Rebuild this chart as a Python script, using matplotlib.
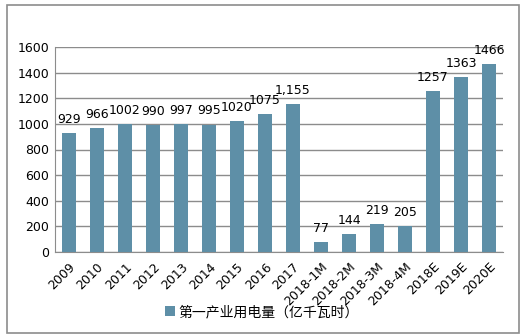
import matplotlib.pyplot as plt
from matplotlib.patches import Rectangle

plt.rcParams['font.family'] = ['Noto Sans CJK SC', 'DejaVu Sans']

categories = ['2009', '2010', '2011', '2012', '2013', '2014', '2015', '2016', '2017',
              '2018-1M', '2018-2M', '2018-3M', '2018-4M', '2018E', '2019E', '2020E']
values = [929, 966, 1002, 990, 997, 995, 1020, 1075, 1155,
          77, 144, 219, 205, 1257, 1363, 1466]
labels = ['929', '966', '1002', '990', '997', '995', '1020', '1075', '1,155',
          '77', '144', '219', '205', '1257', '1363', '1466']
series_name = '第一产业用电量（亿千瓦时）'

bar_color = '#5e8fa7'
grid_color = '#8c8c8c'

fig = plt.figure(figsize=(5.28, 3.36), dpi=100)
fig.patches.append(Rectangle((7 / 528, 3 / 336), 512 / 528, 328 / 336,
                             transform=fig.transFigure, fill=False,
                             edgecolor='#8c8c8c', linewidth=1.2))

ax = fig.add_axes([55 / 528, 84 / 336, 448 / 528, 205 / 336])
x = range(len(categories))
bars = ax.bar(x, values, width=0.5, color=bar_color, label=series_name, zorder=3)

# value labels sit a little above each bar
for xi, v, t in zip(x, values, labels):
    ax.text(xi, v + 55, t, ha='center', va='bottom', fontsize=9,
            family=['DejaVu Sans'], color='black')

ax.set_xlim(-0.5, len(categories) - 0.5)
ax.set_ylim(0, 1600)
ax.set_yticks(range(0, 1601, 200))
ax.set_yticklabels([str(v) for v in range(0, 1601, 200)], fontsize=9, family=['DejaVu Sans'])
ax.set_xticks(list(x))
ax.set_xticklabels(categories, rotation=45, ha='right', rotation_mode='anchor',
                   fontsize=9, family=['DejaVu Sans'])
ax.tick_params(length=0, pad=4)
ax.tick_params(axis='x', pad=6)

ax.grid(axis='y', color=grid_color, linewidth=1, zorder=0)
for side in ['top', 'right']:
    ax.spines[side].set_visible(False)
ax.spines['left'].set_color(grid_color)
ax.spines['bottom'].set_color(grid_color)

fig.legend(handles=[bars], labels=[series_name], loc='center',
           bbox_to_anchor=(262 / 528, 1 - 312 / 336), frameon=False,
           fontsize=10, handlelength=0.7, handleheight=0.7, handletextpad=0.3)

fig.savefig('out.png', dpi=100)
